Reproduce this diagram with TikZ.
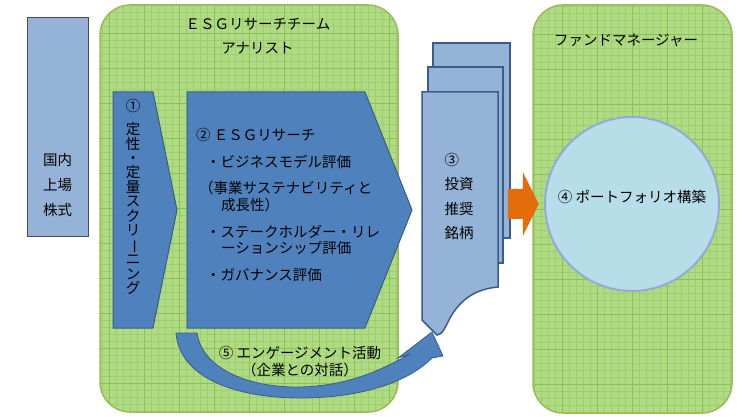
\documentclass[tikz,border=0pt]{standalone}
\usepackage{fontspec}
\setmainfont{Noto Sans CJK JP}
\usetikzlibrary{positioning}
\usetikzlibrary{calc}

\definecolor{boxblue}{HTML}{95B3D7}
\definecolor{stepblue}{HTML}{4F81BD}
\definecolor{stepline}{HTML}{385D8A}
\definecolor{teamgreen}{HTML}{B0DA86}
\definecolor{gridminor}{HTML}{9DD167}
\definecolor{gridmajor}{HTML}{88C550}
\definecolor{teamline}{HTML}{9BBB59}
\definecolor{arroworange}{HTML}{E46C0A}
\definecolor{circfill}{HTML}{B7DEE8}
\definecolor{circline}{HTML}{93A9D7}

\begin{document}
\begin{tikzpicture}[x=1pt, y=-1pt,
    jp/.style={font=\fontsize{14.5}{17}\selectfont, inner sep=0pt},
    team/.style={draw=teamline, line width=1.5pt, fill=teamgreen, rounded corners=30pt,
        path picture={
            \draw[gridminor, line width=0.4pt, step=7pt] (path picture bounding box.south west) grid (path picture bounding box.north east);
            \draw[gridmajor, line width=0.8pt, step=35pt] (path picture bounding box.south west) grid (path picture bounding box.north east);
        }},
    stepshape/.style={draw=stepline, line width=1pt, fill=stepblue},
    doc/.style={draw=stepline, line width=1.5pt, fill=boxblue},
]
    \useasboundingbox (0,0) rectangle (746,419);
    %ESG team
    \node[team, minimum width=298pt, minimum height=407pt] (team) at (249,208.5) {};
    \node[jp] (teamtitle) at (258,24) {ＥＳＧリサーチチーム};
    \node[jp] (analyst) at (257.5,48) {アナリスト};
    %Fund manager
    \node[team, minimum width=199pt, minimum height=408pt] (fm) at (632.5,209) {};
    \node[jp] (fmtitle) at (626,40) {ファンドマネージャー};
    %Stocks
    \node[draw=black!70, line width=1pt, fill=boxblue, minimum width=61pt, minimum height=219pt] (stocks) at (57.5,127.5) {};
    \node[jp, align=center, font=\fontsize{14.5}{25}\selectfont] (stockstext) at (57.5,185) {国内\\上場\\株式};
    %Step 1 - screening
    \draw[stepshape] (113,92) -- (153,92) -- (177,210) -- (153,328) -- (113,328) -- cycle;
    \node[jp] (s1num) at (133,106) {①};
    \node[jp, align=center, font=\fontsize{14.5}{14.45}\selectfont] (s1text) at (133,208.5) {定\\性\\・\\定\\量\\ス\\ク\\リ\\\rotatebox[origin=c]{-90}{ー}\\ニ\\ン\\グ};
    %Step 2 - ESG research
    \draw[stepshape] (187,92) -- (365,92) -- (412,210) -- (365,328) -- (187,328) -- cycle;
    \node[jp, anchor=west] (s2title) at (196,135) {② ＥＳＧリサーチ};
    \node[jp, anchor=west] (bizmodel) at (206,162) {・ビジネスモデル評価};
    \node[jp, anchor=west] (bizsub1) at (199,188) {（事業サステナビリティと};
    \node[jp, anchor=west] (bizsub2) at (221,205) {成長性）};
    \node[jp, anchor=west] (stake1) at (206,232) {・ステークホルダー・リレ};
    \node[jp, anchor=west] (stake2) at (221,248) {ーションシップ評価};
    \node[jp, anchor=west] (gov) at (206,275) {・ガバナンス評価};
    %Step 3 - documents
    \node[doc, minimum width=77pt, minimum height=195pt] (doc3) at (471.5,140.5) {};
    \node[doc, minimum width=75pt, minimum height=196pt] (doc2) at (465.5,165) {};
    \draw[doc] (422,92) -- (498,92) -- (498,287) .. controls (475,289) and (460,300) .. (450,318) .. controls (445,328) and (442,335) .. (437,335) -- (422,320) -- cycle;
    \node[jp, align=left, font=\fontsize{14.5}{24.3}\selectfont] (picks) at (459,196.5) {③\\投資\\推奨\\銘柄};
    %Step 4 - portfolio
    \node[circle, draw=circline, line width=2pt, fill=circfill, minimum size=174pt] (circ) at (632,204) {};
    \node[jp] (portfolio) at (632,197) {④ ポートフォリオ構築};
    %Documents - portfolio
    \coordinate (oa) at ([xshift=-3pt]doc3.east |- circ.center);
    \fill[arroworange] (oa) ++(0,-15) -- ++(15,0) -- ++(0,-17) -- ++(16,32) -- ++(-16,32) -- ++(0,-17) -- ++(-15,0) -- cycle;
    %Step 5 - engagement
    \draw[stepline, fill=stepblue, line width=0.8pt] (176,333) -- (197,333) .. controls (203,372) and (255,388) .. (300,387) .. controls (350,386) and (385,368) .. (410,354) -- (398,358) -- (432,332) -- (443,356) -- (432,358) .. controls (405,385) and (355,398) .. (300,398) .. controls (240,398) and (180,380) .. (176,333) -- cycle;
    \node[jp, align=center] (engage) at (300,361.5) {⑤ エンゲージメント活動\\（企業との対話）};
\end{tikzpicture}
\end{document}
